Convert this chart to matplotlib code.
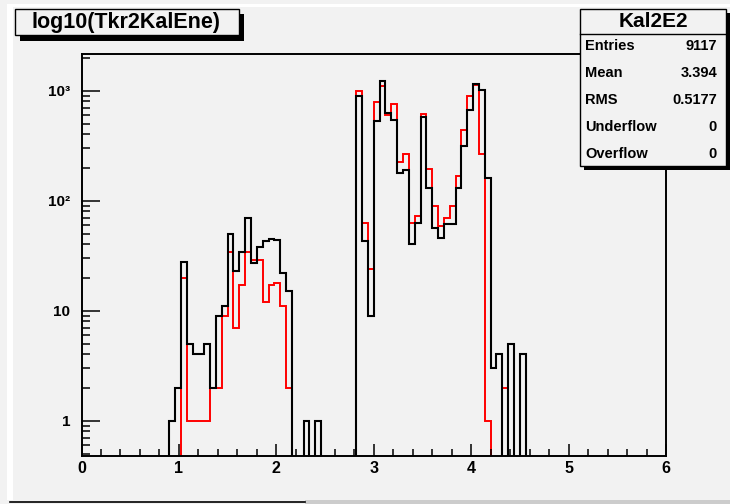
#!/usr/bin/env python3

import numpy as np
import matplotlib
matplotlib.use("Agg")
import matplotlib.pyplot as plt
from matplotlib.patches import Rectangle
from matplotlib.lines import Line2D
from matplotlib.ticker import FixedLocator, FixedFormatter, MultipleLocator

# histogram: 100 bins from 0 to 6, values listed from bin 15 (x = 0.90) on
nbins = 100
xmin, xmax = 0.0, 6.0
first_bin = 15

black_counts = [1, 2, 28, 5, 4, 4, 5, 2, 9, 11, 50, 23, 34, 69, 27, 38, 43, 45,
                44, 22, 15, 0, 0, 1, 0, 1, 0, 0, 0, 0, 0, 0,
                900, 43, 9, 533, 1233, 632, 542, 180, 190, 40, 63, 573, 130, 57,
                46, 61, 61, 130, 314, 668, 1151, 1015, 162, 3, 4, 0, 5, 0, 4]

red_counts = [0, 0, 20, 1, 1, 1, 1, 2, 2, 9, 34, 7, 17, 34, 29, 29, 12, 17,
              18, 11, 2, 0, 0, 0, 0, 0, 0, 0, 0, 0, 0, 0,
              1000, 63, 24, 784, 1104, 601, 752, 223, 264, 63, 73, 610, 193, 90,
              59, 69, 90, 168, 440, 895, 1127, 264, 1, 0, 0, 2, 0, 0, 0]

title = "log10(Tkr2KalEne)"
stats_name = "Kal2E2"
stats_labels = ["Entries", "Mean", "RMS", "Underflow", "Overflow"]
stats_values = ["9117", "3.394", "0.5177", "0", "0"]

ytick_vals = [1, 10, 100, 1000]
ytick_labels = ["1", "10", "10²", "10³"]

W, H = 730, 504
BG = "#f2f2f2"
FONT = "Liberation Sans"

plt.rcParams["font.family"] = [FONT, "DejaVu Sans"]
plt.rcParams["font.weight"] = "bold"

fig = plt.figure(figsize=(W / 100, H / 100), dpi=100, facecolor=BG)


def fx(x):
    return x / W


def fy(y):
    return 1 - y / H


def rect(x0, y0, x1, y1, **kw):
    fig.add_artist(Rectangle((fx(x0), fy(y1)), fx(x1) - fx(x0), fy(y0) - fy(y1),
                             transform=fig.transFigure, **kw))


# screen-capture edges
rect(7, 4, 730, 7, fc="white", ec="none", zorder=0)
rect(7, 4, 13, 500, fc="white", ec="none", zorder=0)
rect(305, 500, 730, 504, fc="#cccccc", ec="none", zorder=0)
fig.add_artist(Line2D([fx(10), fx(305)], [fy(501.5), fy(501.5)], color="black",
                      lw=1.2, transform=fig.transFigure))

left, right, top, bottom = 81.5, 666, 54, 455.5
ax = fig.add_axes([fx(left), fy(bottom), fx(right) - fx(left), (bottom - top) / H])
ax.set_facecolor(BG)

edges = np.linspace(xmin, xmax, nbins + 1)
black = np.zeros(nbins)
black[first_bin:first_bin + len(black_counts)] = black_counts
red = np.zeros(nbins)
red[first_bin:first_bin + len(red_counts)] = red_counts

floor = 1e-3
ax.stairs(np.where(red > 0, red, floor), edges, baseline=None, color="#ff0000", lw=1.4)
ax.stairs(np.where(black > 0, black, floor), edges, baseline=None, color="black", lw=1.5)

ax.set_yscale("log")
ax.set_xlim(xmin, xmax)
ax.set_ylim(0.483, 2155)

ax.xaxis.set_major_locator(MultipleLocator(1))
ax.xaxis.set_minor_locator(MultipleLocator(0.2))
ax.yaxis.set_major_locator(FixedLocator(ytick_vals))
ax.yaxis.set_major_formatter(FixedFormatter(ytick_labels))
minor_y = [m * d for d in (0.1, 1, 10, 100) for m in range(2, 10)] + [2000]
ax.yaxis.set_minor_locator(FixedLocator([v for v in minor_y if v >= 0.5]))
ax.yaxis.set_minor_formatter(FixedFormatter([]))

ax.tick_params(axis="x", which="major", direction="in", length=9, width=1.1,
               labelsize=11.5, pad=4)
ax.tick_params(axis="x", which="minor", direction="in", length=5, width=1.1)
ax.tick_params(axis="y", which="major", direction="in", length=13, width=1.1,
               labelsize=11, pad=8)
ax.tick_params(axis="y", which="minor", direction="in", length=6, width=1.1)
for lab in ax.get_xticklabels() + ax.get_yticklabels():
    lab.set_fontweight("bold")
for sp in ax.spines.values():
    sp.set_linewidth(1.4)

# title box with shadow
rect(20, 14, 244, 40.5, fc="black", ec="none", zorder=5)
rect(15, 9, 239, 35, fc=BG, ec="black", lw=1.0, zorder=6)
fig.text(fx(126), fy(22.5), title, ha="center", va="center", fontsize=15.5,
         fontweight="bold", zorder=7)

# stats box with shadow
rect(584, 13, 730, 170, fc="black", ec="none", zorder=5)
rect(580, 9, 726, 166, fc=BG, ec="black", lw=1.0, zorder=6)
fig.add_artist(Line2D([fx(580), fx(726)], [fy(33.5), fy(33.5)], color="black",
                      lw=1.0, transform=fig.transFigure, zorder=7))
fig.text(fx(653), fy(21.5), stats_name, ha="center", va="center", fontsize=15,
         fontweight="bold", zorder=7)
for i, (lab, val) in enumerate(zip(stats_labels, stats_values)):
    yy = 45.5 + i * 27.2
    fig.text(fx(585), fy(yy), lab, ha="left", va="center", fontsize=10.5,
             fontweight="bold", zorder=7)
    fig.text(fx(717), fy(yy), val, ha="right", va="center", fontsize=10.5,
             fontweight="bold", zorder=7)

fig.savefig("out.png", dpi=100, facecolor=BG)
